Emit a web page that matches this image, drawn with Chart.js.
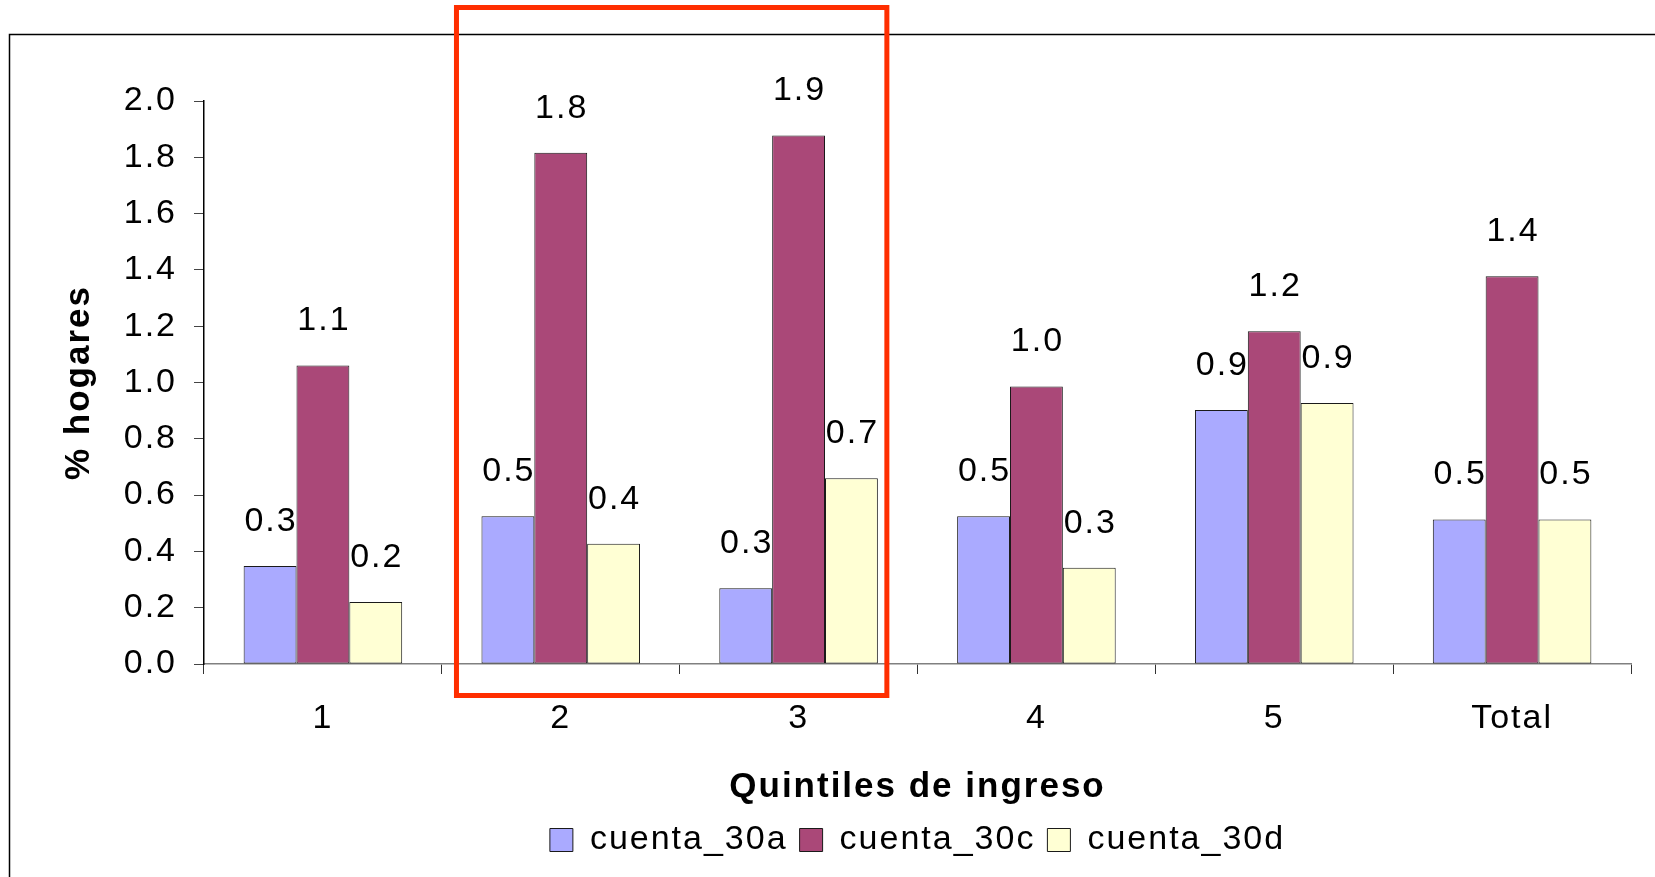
<!DOCTYPE html>
<html>
<head>
<meta charset="utf-8">
<script src="https://cdn.jsdelivr.net/npm/chart.js@4.4.1/dist/chart.umd.min.js"></script>
<style>
  html, body { margin: 0; padding: 0; background: #ffffff; }
  #wrap { width: 1655px; height: 877px; position: relative; }
</style>
</head>
<body>
<div id="wrap"><canvas id="chart" width="1655" height="877"></canvas></div>
<script>
// Income quintiles and the share of households (%) for each account type
const categories = ['1', '2', '3', '4', '5', 'Total'];
const cuenta30a = [0.348, 0.525, 0.269, 0.525, 0.902, 0.513];
const cuenta30c = [1.060, 1.816, 1.877, 0.986, 1.182, 1.377];
const cuenta30d = [0.220, 0.427, 0.660, 0.342, 0.927, 0.513];
const seriesNames = ['cuenta_30a', 'cuenta_30c', 'cuenta_30d'];
const yMin = 0;
const yMax = 2.0;
const yStep = 0.2;
const highlightedCategories = ['2', '3'];

const FONT = '"Liberation Sans", Arial, Helvetica, sans-serif';
const TEXT_SIZE = 34;
const TITLE_SIZE = 35;
const LETTER_SPACING = '2px';

// Slightly open tracking for every piece of text on the canvas
const trackingPlugin = {
  id: 'tracking',
  beforeUpdate(chart) { chart.ctx.letterSpacing = LETTER_SPACING; },
  beforeDraw(chart) { chart.ctx.letterSpacing = LETTER_SPACING; }
};

// Outer frame: a thin black line along the top and left edges
const framePlugin = {
  id: 'frame',
  beforeDraw(chart) {
    const ctx = chart.ctx;
    ctx.save();
    ctx.strokeStyle = '#000000';
    ctx.lineWidth = 1.5;
    ctx.beginPath();
    ctx.moveTo(chart.width, 34.5);
    ctx.lineTo(9.5, 34.5);
    ctx.lineTo(9.5, chart.height);
    ctx.stroke();
    ctx.restore();
  }
};

// Value printed above every bar, rounded to one decimal
const valueLabels = {
  id: 'valueLabels',
  afterDatasetsDraw(chart) {
    const ctx = chart.ctx;
    ctx.save();
    ctx.font = TEXT_SIZE + 'px ' + FONT;
    ctx.fillStyle = '#000000';
    ctx.textAlign = 'center';
    ctx.textBaseline = 'middle';
    chart.data.datasets.forEach((ds, i) => {
      chart.getDatasetMeta(i).data.forEach((bar, j) => {
        ctx.fillText(ds.data[j].toFixed(1), bar.x + 1, bar.y - 44.5);
      });
    });
    ctx.restore();
  }
};

// Red box around the highlighted quintiles
const highlightBox = {
  id: 'highlightBox',
  afterDraw(chart) {
    const first = categories.indexOf(highlightedCategories[0]);
    const last = categories.indexOf(highlightedCategories[highlightedCategories.length - 1]);
    const nSets = chart.data.datasets.length;
    const leftBar = chart.getDatasetMeta(0).data[first];
    const rightBar = chart.getDatasetMeta(nSets - 1).data[last];
    const x0 = leftBar.x - leftBar.width / 2 - 25;
    const x1 = rightBar.x + rightBar.width / 2 + 9;
    const y0 = 7.5;
    const y1 = chart.scales.x.top + 31.5;
    const ctx = chart.ctx;
    ctx.save();
    ctx.strokeStyle = '#FF2E00';
    ctx.lineWidth = 5;
    ctx.strokeRect(x0, y0, x1 - x0, y1 - y0);
    ctx.restore();
  }
};

const barStyle = {
  borderColor: '#1a1a1a',
  borderWidth: 1,
  borderSkipped: false,
  categoryPercentage: 2 / 3,
  barPercentage: 1.0
};

new Chart(document.getElementById('chart'), {
  type: 'bar',
  data: {
    labels: categories,
    datasets: [
      Object.assign({ label: seriesNames[0], data: cuenta30a, backgroundColor: '#AAAAFF' }, barStyle),
      Object.assign({ label: seriesNames[1], data: cuenta30c, backgroundColor: '#AA4878' }, barStyle),
      Object.assign({ label: seriesNames[2], data: cuenta30d, backgroundColor: '#FFFFD4' }, barStyle)
    ]
  },
  options: {
    responsive: false,
    animation: false,
    devicePixelRatio: 1,
    layout: { padding: { top: 101, right: 24, bottom: 10, left: 0 } },
    plugins: {
      tooltip: { enabled: false },
      title: { display: false },
      legend: {
        display: true,
        position: 'bottom',
        fullSize: false,
        labels: {
          boxWidth: 23,
          boxHeight: 23,
          padding: 12,
          color: '#000000',
          font: { family: FONT, size: TEXT_SIZE }
        }
      }
    },
    scales: {
      x: {
        grid: {
          display: true,
          offset: true,
          drawOnChartArea: false,
          drawTicks: true,
          tickLength: 10,
          color: '#333333',
          lineWidth: 1
        },
        border: { display: true, color: '#808080', width: 1.5 },
        ticks: {
          color: '#000000',
          padding: 24,
          font: { family: FONT, size: TEXT_SIZE }
        },
        title: {
          display: true,
          text: 'Quintiles de ingreso',
          color: '#000000',
          font: { family: FONT, size: TITLE_SIZE, weight: 'bold' },
          padding: { top: 0, bottom: 3 }
        },
        afterFit(scale) { scale.height = 147; }
      },
      y: {
        min: yMin,
        max: yMax,
        grid: {
          display: true,
          drawOnChartArea: false,
          drawTicks: true,
          tickLength: 10,
          color: '#444444',
          lineWidth: 1
        },
        border: { display: true, color: '#000000', width: 1.5 },
        ticks: {
          stepSize: yStep,
          color: '#000000',
          padding: 17,
          font: { family: FONT, size: TEXT_SIZE },
          callback: (v) => Number(v).toFixed(1)
        },
        title: {
          display: true,
          text: '% hogares',
          color: '#000000',
          font: { family: FONT, size: TITLE_SIZE, weight: 'bold' },
          padding: { top: 58, bottom: 0 }
        },
        afterFit(scale) { scale.width = 204; }
      }
    }
  },
  plugins: [trackingPlugin, framePlugin, valueLabels, highlightBox]
});
</script>
</body>
</html>
